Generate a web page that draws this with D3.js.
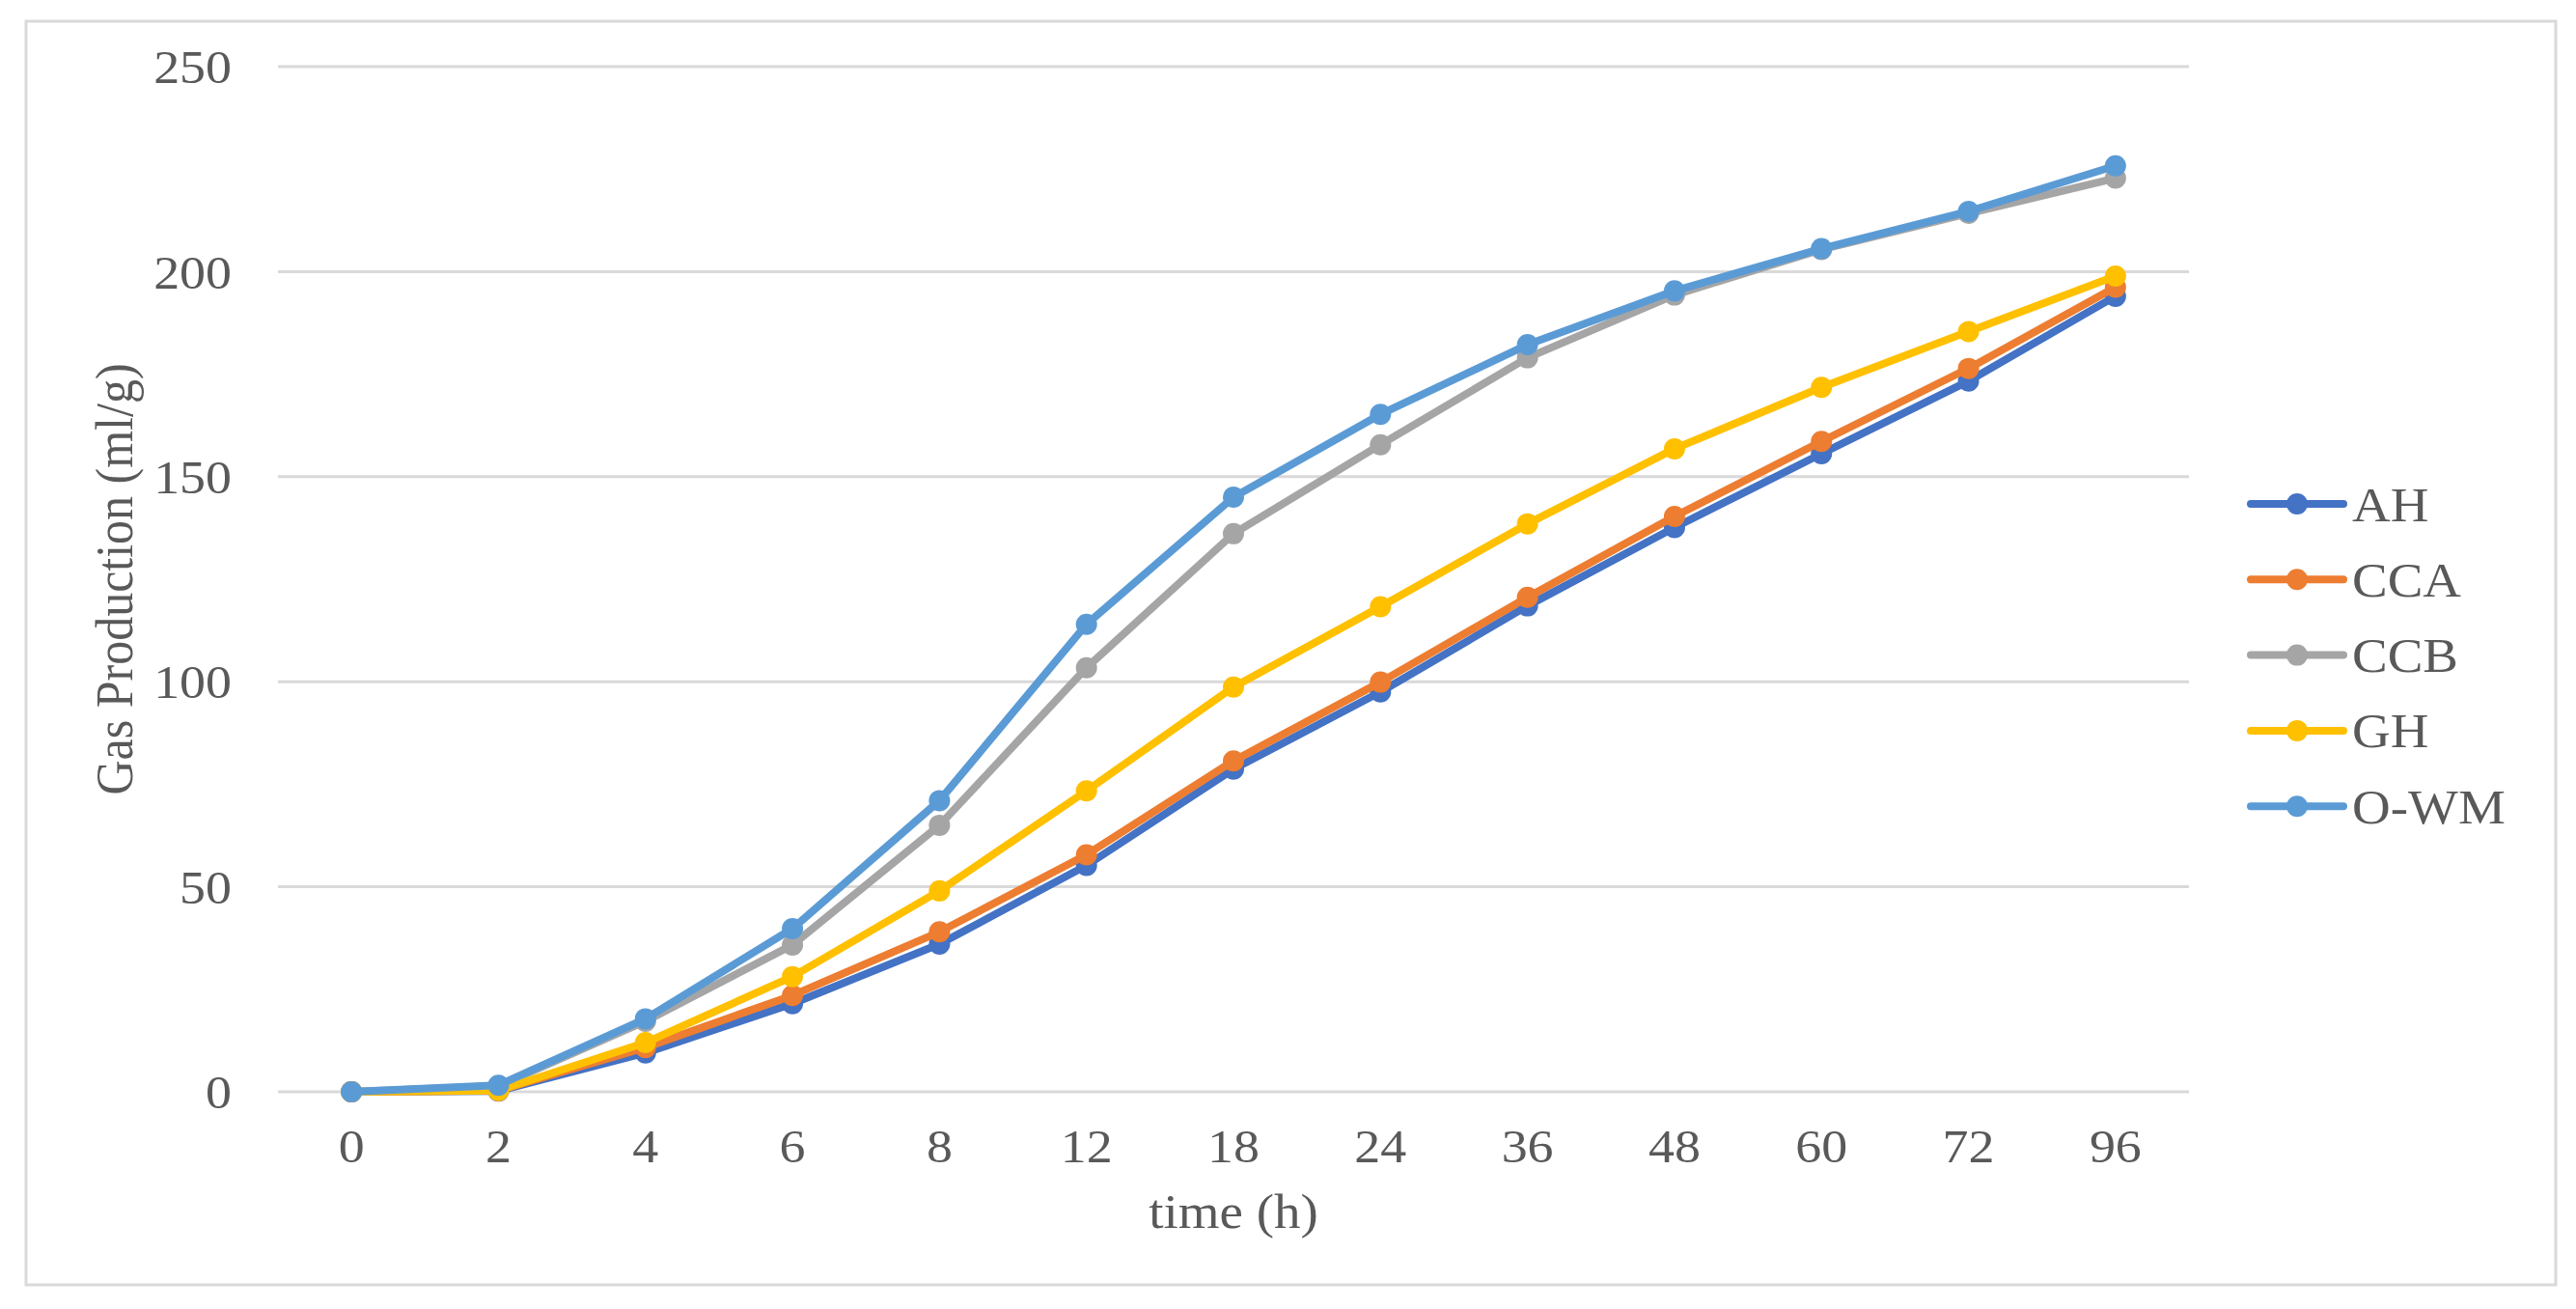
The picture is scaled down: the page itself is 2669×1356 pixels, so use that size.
<!DOCTYPE html>
<html>
<head>
<meta charset="utf-8">
<script src="https://cdn.jsdelivr.net/npm/d3@7"></script>
<style>
  html, body { margin: 0; padding: 0; background: #ffffff; }
  svg { display: block; }
  text { font-family: "Liberation Serif", "Times New Roman", serif; fill: #595959; }
</style>
</head>
<body>
<svg id="chart" width="2669" height="1356"></svg>
<script>
// ---- data ----
const categories = ["0", "2", "4", "6", "8", "12", "18", "24", "36", "48", "60", "72", "96"];
const seriesNames = ["AH", "CCA", "CCB", "GH", "O-WM"];
const AH   = [0, 0.2, 9.5, 21.5, 36, 55.2, 78.7, 97.5, 118.5, 137.6, 155.6, 173.3, 194];
const CCA  = [0, 0.3, 10.8, 23.5, 39, 57.8, 80.7, 99.9, 120.6, 140.3, 158.6, 176.4, 196.2];
const CCB  = [0, 1.4, 17.2, 35.8, 65, 103.4, 136.1, 157.8, 179, 194.3, 205.4, 214.2, 222.8];
const GH   = [0, 0.3, 12, 28.1, 49, 73.4, 98.7, 118.3, 138.5, 156.8, 171.8, 185.4, 198.9];
const OWM  = [0, 1.6, 17.8, 39.8, 71, 114, 145, 165.2, 182.2, 195.3, 205.6, 214.7, 225.8];
const seriesValues = [AH, CCA, CCB, GH, OWM];
const colors = ["#4472C4", "#ED7D31", "#A5A5A5", "#FFC000", "#5B9BD5"];
const yTicks = [0, 50, 100, 150, 200, 250];

// ---- layout ----
const svg = d3.select("#chart");
const plot = { left: 288, right: 2268, top: 69, bottom: 1131 };
const stretch = "scale(1.1,1)";

// outer border
svg.append("rect")
  .attr("x", 27).attr("y", 22)
  .attr("width", 2648 - 27).attr("height", 1331 - 22)
  .attr("fill", "#ffffff").attr("stroke", "#d9d9d9").attr("stroke-width", 3);

const x = d3.scaleBand().domain(categories).range([plot.left, plot.right]).padding(0);
const y = d3.scaleLinear().domain([0, 250]).range([plot.bottom, plot.top]);
const cx = c => x(c) + x.bandwidth() / 2;

// gridlines
svg.append("g").selectAll("line").data(yTicks).join("line")
  .attr("x1", plot.left).attr("x2", plot.right)
  .attr("y1", d => y(d)).attr("y2", d => y(d))
  .attr("stroke", "#d9d9d9").attr("stroke-width", 3);

// y axis labels
const yAxis = d3.axisLeft(y).tickValues(yTicks).tickSize(0).tickPadding(0).tickFormat(d3.format("d"));
const yg = svg.append("g").attr("transform", `translate(240,0)`).call(yAxis);
yg.select(".domain").remove();
yg.selectAll("text").attr("font-size", 49).attr("fill", "#595959")
  .attr("font-family", "Liberation Serif, serif").attr("dy", "0.34em")
  .attr("transform", stretch);

// x axis labels
const xAxis = d3.axisBottom(x).tickSize(0).tickPadding(0);
const xg = svg.append("g").attr("transform", `translate(0,1172)`).call(xAxis);
xg.select(".domain").remove();
xg.selectAll("text").attr("font-size", 49).attr("fill", "#595959")
  .attr("font-family", "Liberation Serif, serif").attr("dy", "0.66em")
  .attr("transform", stretch);

// axis titles
svg.append("text")
  .attr("transform", `translate(${(plot.left + plot.right) / 2},1272) ${stretch}`)
  .attr("text-anchor", "middle").attr("font-size", 50)
  .text("time (h)");

svg.append("text")
  .attr("transform", `translate(137,${(plot.top + plot.bottom) / 2}) ${stretch} rotate(-90)`)
  .attr("text-anchor", "middle").attr("font-size", 50)
  .text("Gas Production (ml/g)");

// series
const line = d3.line().x((d, i) => cx(categories[i])).y(d => y(d));
seriesNames.forEach((name, s) => {
  const g = svg.append("g");
  g.append("path")
    .datum(seriesValues[s])
    .attr("d", line)
    .attr("fill", "none")
    .attr("stroke", colors[s])
    .attr("stroke-width", 8)
    .attr("stroke-linejoin", "round")
    .attr("stroke-linecap", "round");
  g.selectAll("circle").data(seriesValues[s]).join("circle")
    .attr("cx", (d, i) => cx(categories[i]))
    .attr("cy", d => y(d))
    .attr("r", 11)
    .attr("fill", colors[s]);
});

// legend
const legend = svg.append("g");
const legY0 = 522, legStep = 78.3;
seriesNames.forEach((name, s) => {
  const ly = legY0 + s * legStep;
  legend.append("line")
    .attr("x1", 2332).attr("x2", 2428).attr("y1", ly).attr("y2", ly)
    .attr("stroke", colors[s]).attr("stroke-width", 8).attr("stroke-linecap", "round");
  legend.append("circle").attr("cx", 2380).attr("cy", ly).attr("r", 11).attr("fill", colors[s]);
  legend.append("text")
    .attr("transform", `translate(2437,${ly}) ${stretch}`)
    .attr("dy", "0.35em")
    .attr("font-size", 50)
    .text(name);
});
</script>
</body>
</html>
